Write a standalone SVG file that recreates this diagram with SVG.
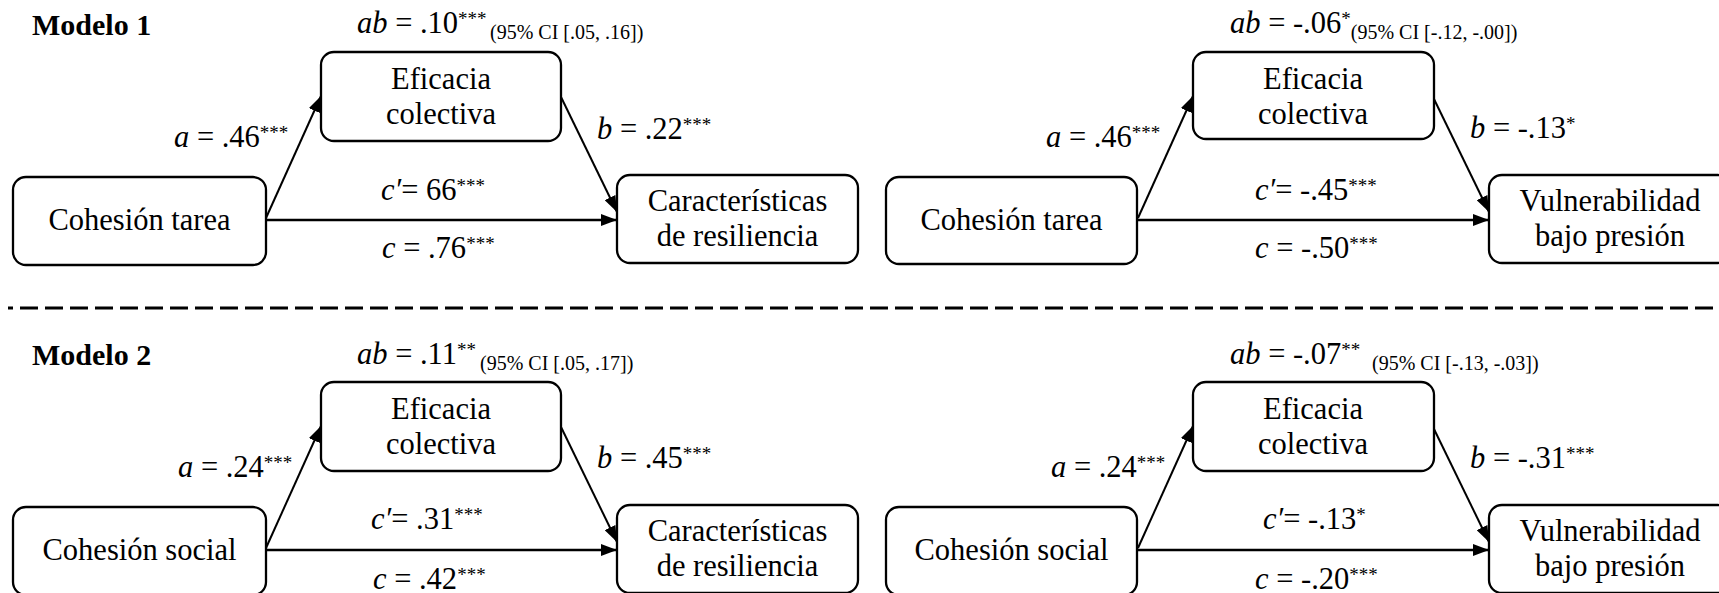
<svg xmlns="http://www.w3.org/2000/svg" width="1719" height="593" viewBox="0 0 1719 593" font-family="Liberation Serif, serif">
  <defs>
    <marker id="arrow" markerUnits="userSpaceOnUse" markerWidth="16" markerHeight="12" refX="16" refY="6" orient="auto">
      <path d="M0,0 L16,6 L0,12 z" fill="#000"/>
    </marker>
    <style>
      text { font-family: 'Liberation Serif', serif; fill: #000; }
      .box { fill: #fff; stroke: #000; stroke-width: 2.3; }
      .nt { font-size: 30.5px; text-anchor: middle; }
      .lbl { font-size: 30.5px; }
      .it { font-style: italic; }
      .sup { font-size: 19px; }
      .ci { font-size: 20px; }
      .title { font-size: 30px; font-weight: bold; }
      .edge { stroke: #000; stroke-width: 2; fill: none; marker-end: url(#arrow); }
      .edge-c { stroke: #000; stroke-width: 2.6; fill: none; marker-end: url(#arrow); }
    </style>
  </defs>
  <rect width="1719" height="593" fill="#fff"/>

  <!-- Model titles -->
  <text class="title" x="32" y="35">Modelo 1</text>
  <text class="title" x="32" y="365">Modelo 2</text>

  <!-- separator between the two models -->
  <line x1="8" y1="308" x2="1719" y2="308" stroke="#000" stroke-width="2.8" stroke-dasharray="18 7" stroke-dashoffset="13"/>

  <!-- ===== Model 1, resilience outcome ===== -->
  <g id="m1-resiliencia">
    <g id="connectors-m1-res">
      <path class="edge" d="M266,218 L321,96"/>
      <path class="edge" d="M561,97 L617,212"/>
      <path class="edge-c" d="M266,220 L617,220"/>
    </g>
    <g id="m1-res-cohesion">
      <rect class="box" x="13" y="177" width="253" height="88" rx="13"/>
      <text class="nt" x="139.5" y="230">Cohesión tarea</text>
    </g>
    <g id="m1-res-eficacia">
      <rect class="box" x="321" y="52" width="240" height="89" rx="13"/>
      <text class="nt" x="441" y="89">Eficacia</text>
      <text class="nt" x="441" y="124">colectiva</text>
    </g>
    <g id="m1-res-resiliencia">
      <rect class="box" x="617" y="175" width="241" height="88" rx="13"/>
      <text class="nt" x="737.5" y="211">Características</text>
      <text class="nt" x="737.5" y="246">de resiliencia</text>
    </g>
    <g id="m1-res-labels">
      <text class="lbl" x="357" y="33"><tspan class="it">ab</tspan> = .10<tspan class="sup" dy="-8">***</tspan><tspan class="ci" x="490" dy="14">(95% CI [.05, .16])</tspan></text>
      <text class="lbl" x="174" y="147"><tspan class="it">a</tspan> = .46<tspan class="sup" dy="-8">***</tspan></text>
      <text class="lbl" x="597" y="139"><tspan class="it">b</tspan> = .22<tspan class="sup" dy="-8">***</tspan></text>
      <text class="lbl" x="381" y="200"><tspan class="it">c′</tspan>= 66<tspan class="sup" dy="-8">***</tspan></text>
      <text class="lbl" x="382" y="258"><tspan class="it">c</tspan> = .76<tspan class="sup" dy="-8">***</tspan></text>
    </g>
  </g>

  <!-- ===== Model 1, vulnerability outcome ===== -->
  <g id="m1-vulnerabilidad" transform="translate(872,0)">
    <g id="connectors-m1-vul">
      <path class="edge" d="M266,218 L321,96"/>
      <path class="edge" d="M561,97 L617,212"/>
      <path class="edge-c" d="M266,220 L617,220"/>
    </g>
    <g id="m1-vul-cohesion">
      <rect class="box" x="14" y="177" width="251" height="87" rx="13"/>
      <text class="nt" x="139.5" y="230">Cohesión tarea</text>
    </g>
    <g id="m1-vul-eficacia">
      <rect class="box" x="321" y="52" width="241" height="87" rx="13"/>
      <text class="nt" x="441" y="89">Eficacia</text>
      <text class="nt" x="441" y="124">colectiva</text>
    </g>
    <g id="m1-vul-vulnerabilidad">
      <rect class="box" x="617" y="175" width="242" height="88" rx="13"/>
      <text class="nt" x="738" y="211">Vulnerabilidad</text>
      <text class="nt" x="738" y="246">bajo presión</text>
    </g>
    <g id="m1-vul-labels">
      <text class="lbl" x="358" y="33"><tspan class="it">ab</tspan> = -.06<tspan class="sup" dy="-8">*</tspan><tspan class="ci" dy="14">(95% CI [-.12, -.00])</tspan></text>
      <text class="lbl" x="174" y="147"><tspan class="it">a</tspan> = .46<tspan class="sup" dy="-8">***</tspan></text>
      <text class="lbl" x="598" y="138"><tspan class="it">b</tspan> = -.13<tspan class="sup" dy="-8">*</tspan></text>
      <text class="lbl" x="383" y="200"><tspan class="it">c′</tspan>= -.45<tspan class="sup" dy="-8">***</tspan></text>
      <text class="lbl" x="383" y="258"><tspan class="it">c</tspan> = -.50<tspan class="sup" dy="-8">***</tspan></text>
    </g>
  </g>

  <!-- ===== Model 2, resilience outcome ===== -->
  <g id="m2-resiliencia" transform="translate(0,330)">
    <g id="connectors-m2-res">
      <path class="edge" d="M266,218 L321,96"/>
      <path class="edge" d="M561,97 L617,212"/>
      <path class="edge-c" d="M266,220 L617,220"/>
    </g>
    <g id="m2-res-cohesion">
      <rect class="box" x="13" y="177" width="253" height="88" rx="13"/>
      <text class="nt" x="139.5" y="230">Cohesión social</text>
    </g>
    <g id="m2-res-eficacia">
      <rect class="box" x="321" y="52" width="240" height="89" rx="13"/>
      <text class="nt" x="441" y="89">Eficacia</text>
      <text class="nt" x="441" y="124">colectiva</text>
    </g>
    <g id="m2-res-resiliencia">
      <rect class="box" x="617" y="175" width="241" height="88" rx="13"/>
      <text class="nt" x="737.5" y="211">Características</text>
      <text class="nt" x="737.5" y="246">de resiliencia</text>
    </g>
    <g id="m2-res-labels">
      <text class="lbl" x="357" y="34"><tspan class="it">ab</tspan> = .11<tspan class="sup" dy="-8">**</tspan><tspan class="ci" x="480" dy="14">(95% CI [.05, .17])</tspan></text>
      <text class="lbl" x="178" y="147"><tspan class="it">a</tspan> = .24<tspan class="sup" dy="-8">***</tspan></text>
      <text class="lbl" x="597" y="138"><tspan class="it">b</tspan> = .45<tspan class="sup" dy="-8">***</tspan></text>
      <text class="lbl" x="371" y="199"><tspan class="it">c′</tspan>= .31<tspan class="sup" dy="-8">***</tspan></text>
      <text class="lbl" x="373" y="259"><tspan class="it">c</tspan> = .42<tspan class="sup" dy="-8">***</tspan></text>
    </g>
  </g>

  <!-- ===== Model 2, vulnerability outcome ===== -->
  <g id="m2-vulnerabilidad" transform="translate(872,330)">
    <g id="connectors-m2-vul">
      <path class="edge" d="M266,218 L321,96"/>
      <path class="edge" d="M561,97 L617,212"/>
      <path class="edge-c" d="M266,220 L617,220"/>
    </g>
    <g id="m2-vul-cohesion">
      <rect class="box" x="14" y="177" width="251" height="88" rx="13"/>
      <text class="nt" x="139.5" y="230">Cohesión social</text>
    </g>
    <g id="m2-vul-eficacia">
      <rect class="box" x="321" y="52" width="241" height="89" rx="13"/>
      <text class="nt" x="441" y="89">Eficacia</text>
      <text class="nt" x="441" y="124">colectiva</text>
    </g>
    <g id="m2-vul-vulnerabilidad">
      <rect class="box" x="617" y="175" width="242" height="88" rx="13"/>
      <text class="nt" x="738" y="211">Vulnerabilidad</text>
      <text class="nt" x="738" y="246">bajo presión</text>
    </g>
    <g id="m2-vul-labels">
      <text class="lbl" x="358" y="34"><tspan class="it">ab</tspan> = -.07<tspan class="sup" dy="-8">**</tspan><tspan class="ci" x="500" dy="14">(95% CI [-.13, -.03])</tspan></text>
      <text class="lbl" x="179" y="147"><tspan class="it">a</tspan> = .24<tspan class="sup" dy="-8">***</tspan></text>
      <text class="lbl" x="598" y="138"><tspan class="it">b</tspan> = -.31<tspan class="sup" dy="-8">***</tspan></text>
      <text class="lbl" x="391" y="199"><tspan class="it">c′</tspan>= -.13<tspan class="sup" dy="-8">*</tspan></text>
      <text class="lbl" x="383" y="259"><tspan class="it">c</tspan> = -.20<tspan class="sup" dy="-8">***</tspan></text>
    </g>
  </g>
</svg>
